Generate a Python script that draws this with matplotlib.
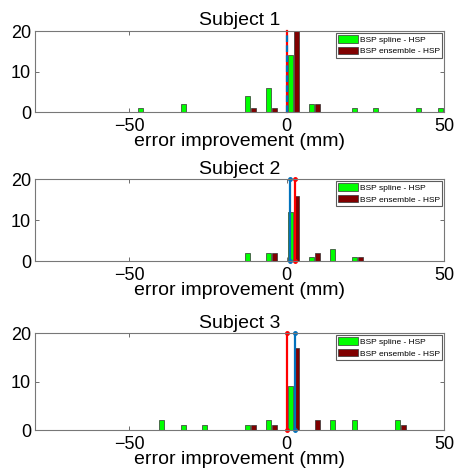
import numpy as np
import matplotlib
matplotlib.use("Agg")
import matplotlib.pyplot as plt

plt.rcParams['font.family'] = ['Liberation Sans', 'DejaVu Sans']

# shared histogram bin centres (mm)
bin_centers = [-45.5, -38.7, -31.9, -25.1, -18.3, -11.5, -4.7, 2.1,
               8.9, 15.7, 22.5, 29.3, 36.1, 42.9, 49.7]

subjects = ["Subject 1", "Subject 2", "Subject 3"]

# counts per bin: BSP spline - HSP
spline_counts = [
    [1, 0, 2, 0, 0, 4, 6, 14, 2, 0, 1, 1, 0, 1, 1],
    [0, 0, 0, 0, 0, 2, 2, 12, 1, 3, 1, 0, 0, 0, 0],
    [0, 2, 1, 1, 0, 1, 2, 9, 0, 2, 2, 0, 2, 0, 0],
]
# counts per bin: BSP ensemble - HSP
ensemble_counts = [
    [0, 0, 0, 0, 0, 1, 1, 25, 2, 0, 0, 0, 0, 0, 0],
    [0, 0, 0, 0, 0, 0, 2, 16, 2, 0, 1, 0, 0, 0, 0],
    [0, 0, 0, 0, 0, 1, 1, 17, 2, 0, 0, 0, 1, 0, 0],
]

# vertical reference lines (x position)
blue_lines = [0.3, 1.0, 2.6]
red_lines = [0.3, 2.6, 0.0]
dashed = [True, False, False]

# axes boxes in figure fraction [left, bottom, width, height]
boxes = [
    [0.0757, 0.761, 0.898, 0.173],
    [0.0757, 0.444, 0.898, 0.1745],
    [0.0757, 0.0851, 0.898, 0.2057],
]

fig = plt.figure(figsize=(4.56, 4.70), dpi=100)

for i in range(3):
    ax = fig.add_axes(boxes[i])
    c = np.array(bin_centers)
    ax.bar(c - 0.95, spline_counts[i], width=1.6, color=(0, 1, 0),
           edgecolor='#333333', linewidth=0.5, label='BSP spline - HSP')
    ax.bar(c + 0.95, ensemble_counts[i], width=1.6, color=(0.5, 0, 0),
           edgecolor='#333333', linewidth=0.5, label='BSP ensemble - HSP')

    if dashed[i]:
        ax.plot([red_lines[i], red_lines[i]], [0, 20], color='red', lw=1.6,
                clip_on=False)
        ax.plot([blue_lines[i], blue_lines[i]], [0, 20], color='#0072BD',
                lw=1.6, ls=(0, (3, 1.5)), clip_on=False)
    else:
        ax.plot([red_lines[i], red_lines[i]], [0, 20], color='red', lw=1.6,
                marker='o', ms=2.5, clip_on=False)
        ax.plot([blue_lines[i], blue_lines[i]], [0, 20], color='#0072BD',
                lw=1.6, marker='o', ms=2.5, clip_on=False)

    ax.set_xlim(-80, 50)
    ax.set_ylim(0, 20)
    ax.set_xticks([-50, 0, 50])
    ax.set_yticks([0, 10, 20])
    ax.tick_params(direction='in', length=3, width=0.6, color='#555555',
                   labelsize=13, top=True, right=True)
    ax.tick_params(axis='x', pad=4)
    ax.tick_params(axis='y', pad=2.5)
    for s in ax.spines.values():
        s.set_color('#777777')
        s.set_linewidth(0.8)
    ax.set_title(subjects[i], fontsize=14, pad=4)
    ax.set_xlabel("error improvement (mm)", fontsize=14, labelpad=-1)
    leg = ax.legend(loc='upper right', fontsize=6, frameon=True,
                    fancybox=False, borderpad=0.3, handlelength=2.4,
                    handleheight=1.0, handletextpad=0.2, labelspacing=0.35,
                    borderaxespad=0.2)
    leg.get_frame().set_edgecolor('#333333')
    leg.get_frame().set_linewidth(0.8)

fig.savefig("out.png", dpi=100)
